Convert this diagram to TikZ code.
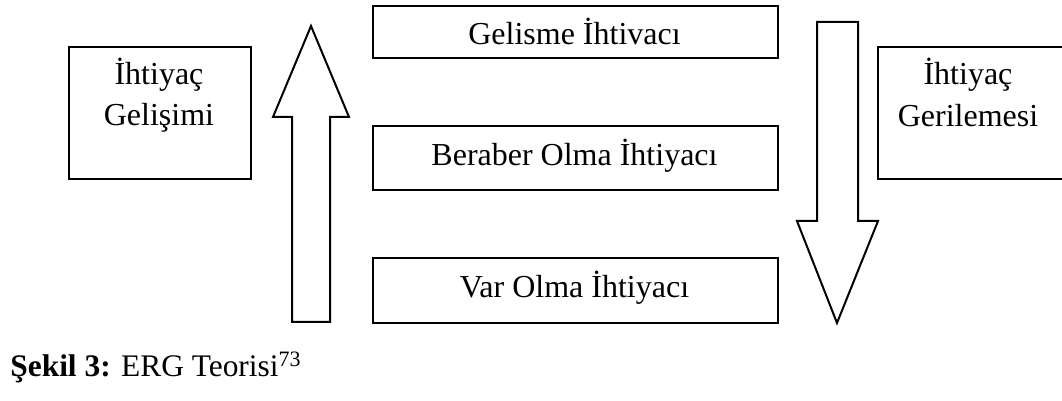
\documentclass[tikz,border=0pt]{standalone}
\usepackage{fontspec}
\setmainfont{Liberation Serif}
\newcommand\ergtextstyle{\fontsize{16}{20}\selectfont}
\newcommand\ergcapstyle{\fontsize{15.7}{19}\selectfont}
\newcommand\erglinestyle{[line width=1pt, line join=miter]}
\newcommand\ergbox[5]{
  \node[draw, line width=1pt, inner sep=0pt, anchor=north west,
        minimum width=#4*0.5pt, minimum height=#5*0.5pt] (#1) at (#2,#3) {};
}
\newcommand\ergtext[4]{
  \node[anchor=base, inner sep=0pt] (#1) at (#2,#3) {\ergtextstyle #4};
}

\begin{document}
\begin{tikzpicture}[x=0.5pt, y=-0.5pt]
    \useasboundingbox (0,0) rectangle (1062,401);
    \clip (0,0) rectangle (1062,401);
    % side boxes
    \ergbox{devbox}{68}{46}{182}{132}
    \ergbox{regbox}{877}{46}{200}{132}
    \ergtext{devtop}{159}{85}{İhtiyaç}
    \ergtext{devbot}{159}{126}{Gelişimi}
    \ergtext{regtop}{968}{85}{İhtiyaç}
    \ergtext{regbot}{968}{127}{Gerilemesi}
    % need levels
    \ergbox{growbox}{372}{5}{405}{52}
    \ergbox{relbox}{372}{125}{405}{64}
    \ergbox{exbox}{372}{257}{405}{65}
    \ergtext{growtext}{574.5}{45}{Gelisme İhtivacı}
    \ergtext{reltext}{574.5}{166}{Beraber Olma İhtiyacı}
    \ergtext{extext}{574.5}{298}{Var Olma İhtiyacı}
    % block arrows
    \draw\erglinestyle (292,322) -- (330,322) -- (330,117) -- (349,117)
      -- (311,26) -- (273,117) -- (292,117) -- cycle;
    \draw\erglinestyle (817,22) -- (858,22) -- (858,221) -- (878,221)
      -- (837,323) -- (797,221) -- (817,221) -- cycle;
    % caption
    \node[anchor=base west, inner sep=0pt] (caption) at (10,377)
      {\ergcapstyle\textbf{Şekil 3:} ERG Teorisi\textsuperscript{73}};
  \end{tikzpicture}
\end{document}
